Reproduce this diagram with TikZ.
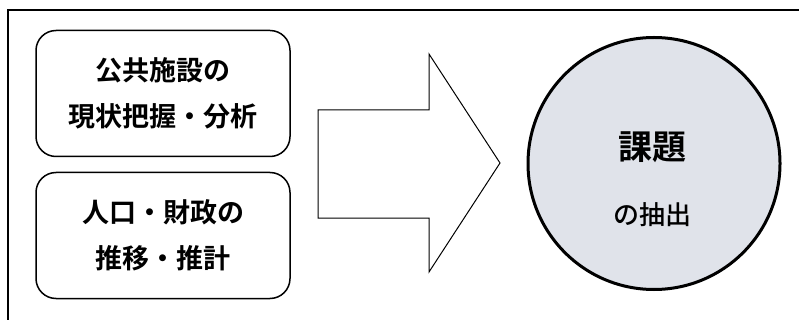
\documentclass[tikz,border=0pt]{standalone}
\usepackage{fontspec}
\newfontfamily\jpm{Noto Sans CJK JP Medium}
\newfontfamily\jpb{Noto Sans CJK JP Bold}
\begin{document}
\begin{tikzpicture}[x=1pt,y=-1pt,
  infobox/.style={draw,line width=1.5pt,rounded corners=20pt,minimum width=254pt,minimum height=126pt,align=center,inner sep=0pt,
    font=\jpb\fontsize{27}{46}\selectfont},
]
\useasboundingbox (0,0) rectangle (799,320);
\fill[white] (0,0) rectangle (799,320);
\draw[line width=1.4pt] (8,10) rectangle (830,340);
\node[infobox] (b1) at (163,93.5) {公共施設の\\現状把握・分析};
\node[infobox] (b2) at (163,235.5) {人口・財政の\\推移・推計};
\draw[line width=1pt,line join=miter]
  (318,110) coordinate (a1) -- (429,110) -- (429,54) -- (500,163) coordinate (tip) -- (429,272) -- (429,218) -- (318,218) -- cycle;
\node[circle,draw,line width=3pt,fill={rgb,255:red,224;green,227;blue,234},minimum size=252pt,inner sep=0pt] (c) at (654,163.5) {};
\node[font=\jpb\fontsize{34}{34}\selectfont] (t1) at (652,147) {課題};
\node[font=\jpm\fontsize{26}{26}\selectfont] (t2) at (652,215) {の抽出};
\end{tikzpicture}
\end{document}
